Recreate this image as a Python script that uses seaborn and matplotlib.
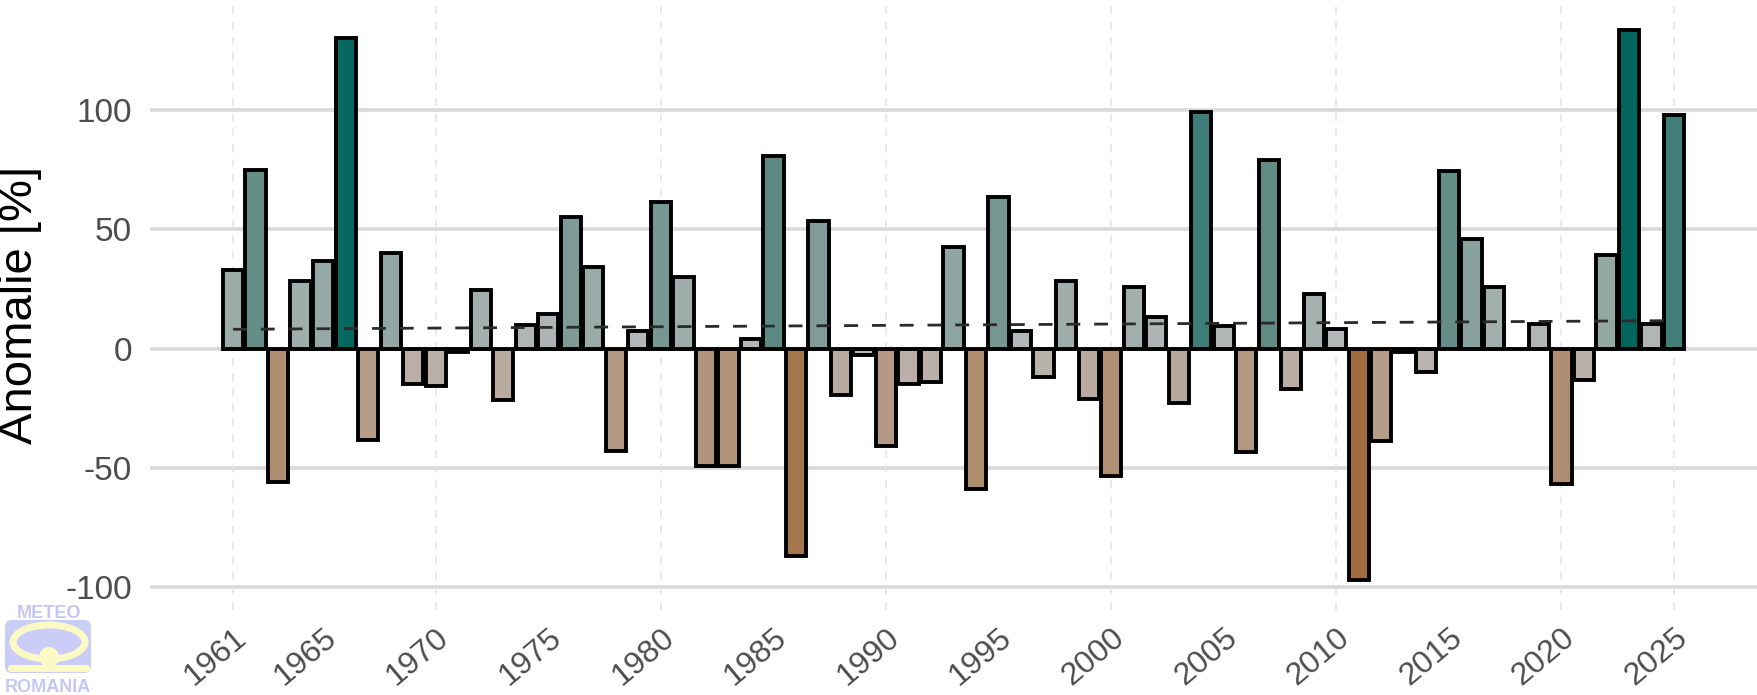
import numpy as np
import pandas as pd
import matplotlib
matplotlib.use("Agg")
import matplotlib.pyplot as plt
import seaborn as sns
from matplotlib.colors import LinearSegmentedColormap, TwoSlopeNorm
from matplotlib.patches import FancyBboxPatch, Ellipse, Circle

# anomaly values (%)
years = list(range(1961, 2026))
anomaly = [
    33, 75, -56, 28.5, 36.5, 130, -38.5, 40, -14.7, -15.8,      # 1961-1970
    -1.3, 24.6, -21.5, 10, 14.5, 55.3, 34, -42.8, 7.5, 61.4,    # 1971-1980
    29.8, -49, -49.3, 4.2, 80.5, -87, 53.5, -19.3, -2.6, -40.6, # 1981-1990
    -14.9, -14, 42.6, -59, 63.6, 7.5, -12.1, 28.1, -21, -53.5,  # 1991-2000
    25.9, 13.4, -22.8, 98.9, 9.6, -43.4, 79, -16.9, 23, 8.1,    # 2001-2010
    -97, -38.8, -1.5, -9.7, 74.4, 46, 25.7, 0, 10.3, -56.6,     # 2011-2020
    -13, 39.2, 133.5, 10.3, 97.8,                               # 2021-2025
]
tick_years = [1961, 1965, 1970, 1975, 1980, 1985, 1990, 1995, 2000,
              2005, 2010, 2015, 2020, 2025]
vgrid_years = [1961, 1970, 1980, 1990, 2000, 2010, 2020, 2025]
y_ticks = [-100, -50, 0, 50, 100]

df = pd.DataFrame({"year": years, "anom": anomaly})
df["label"] = df["year"].astype(str)

# brown -> grey -> teal, scaled on the data range
cmap = LinearSegmentedColormap.from_list("anom", [
    (0.0, "#a06e3e"), (0.3, "#b59c88"), (0.5, "#bbbbbb"),
    (0.625, "#9baba8"), (0.8, "#5f8a84"), (1.0, "#02665e")])
norm = TwoSlopeNorm(vmin=df["anom"].min(), vcenter=0, vmax=df["anom"].max())
palette = {lab: cmap(norm(v)) for lab, v in zip(df["label"], df["anom"])}

sns.set_theme(style="white")
plt.rcParams["font.family"] = ["Liberation Sans", "DejaVu Sans"]
plt.rcParams["axes.unicode_minus"] = False

W, H = 1758, 695
fig = plt.figure(figsize=(W / 100, H / 100), dpi=100)
ax = fig.add_axes([150 / W, 1 - 610 / H, 1 - 150 / W, 610 / H])

for y in y_ticks:
    ax.axhline(y, color="#d9d9d9", lw=2.6, zorder=0)
for x in vgrid_years:
    ax.axvline(x, color="#e3e3e3", lw=1.1, ls=(0, (5, 5)), zorder=0)

sns.barplot(data=df, x="year", y="anom", hue="label", palette=palette,
            native_scale=True, width=0.9, saturation=1, edgecolor="black",
            linewidth=2.8, legend=False, ax=ax, zorder=2)

# linear trend
coef = np.polyfit(df["year"], df["anom"], 1)
trend = np.polyval(coef, df["year"])
ax.plot(df["year"], trend, color="#2b2b2b", lw=2.0, dashes=(5, 5), zorder=3)

ax.set_xlim(1957.31, 2028.73)
ax.set_ylim(-109.5, 146)
ax.set_xticks(tick_years)
ax.set_xticklabels([str(t) for t in tick_years], rotation=40, ha="right",
                   va="top", rotation_mode="anchor")
ax.set_yticks(y_ticks)
ax.set_yticklabels([str(t) for t in y_ticks])
ax.tick_params(axis="both", length=8, width=2.2, color="#333333",
               labelcolor="#4d4d4d")
ax.tick_params(axis="y", labelsize=24, pad=5)
ax.tick_params(axis="x", labelsize=23, pad=1)
for s in ax.spines.values():
    s.set_visible(False)
ax.set_xlabel("")
ax.set_ylabel("Anomalie [%]", fontsize=34, color="black")
ax.yaxis.set_label_coords(-0.067, 0.5)

# METEO ROMANIA watermark
lg = fig.add_axes([0, 0, 100 / W, 95 / H])
lg.set_xlim(0, 100)
lg.set_ylim(695, 600)
lg.axis("off")
lav, yel = "#c9cdf7", "#fbfac4"
lg.add_patch(FancyBboxPatch((5, 620), 86, 53,
                            boxstyle="round,pad=0,rounding_size=7",
                            fc=lav, ec="none"))
lg.add_patch(Ellipse((49, 642), 72, 34, fc="none", ec=yel, lw=5))
lg.add_patch(Circle((49, 657), 10, fc=yel, ec="none"))
lg.add_patch(FancyBboxPatch((8, 665), 82, 7,
                            boxstyle="round,pad=0,rounding_size=3",
                            fc=yel, ec="none"))
lg.text(49, 613, "METEO", ha="center", va="center", fontsize=13,
        fontweight="bold", color="#c4c7f4")
lg.text(48, 688, "ROMANIA", ha="center", va="center", fontsize=13,
        fontweight="bold", color="#c4c7f4")

fig.savefig("out.png", dpi=100)
